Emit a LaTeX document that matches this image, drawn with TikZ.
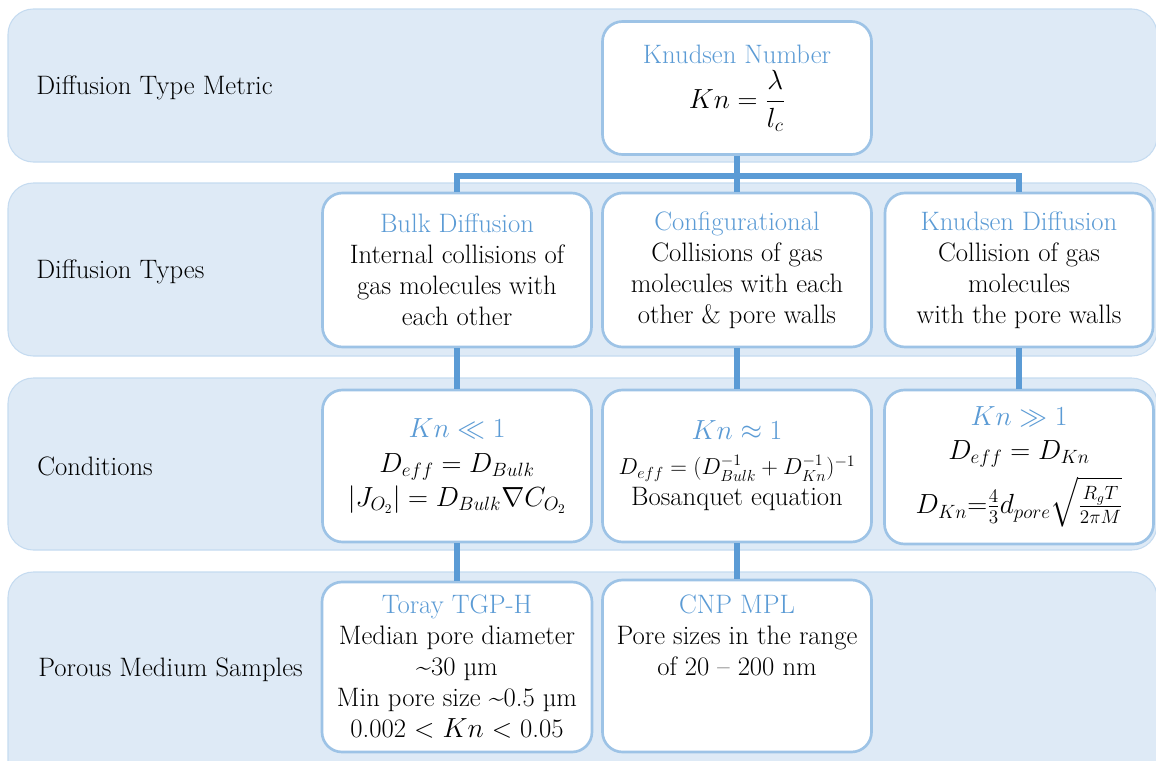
\documentclass[tikz,border=0pt]{standalone}
\usepackage{amsmath}
\definecolor{knBlue}{HTML}{5B9BD5}
\definecolor{knEdge}{HTML}{9DC3E6}
\definecolor{knBand}{HTML}{DEEAF6}
\definecolor{knBandEdge}{HTML}{C5DBF0}
\newcommand{\kt}[1]{\textcolor{knBlue}{#1}}
\tikzset{
  kn band/.style={draw=knBandEdge, fill=knBand, line width=0.8pt, rounded corners=19pt},
  kn box/.style 2 args={draw=knEdge, fill=white, line width=2pt, rounded corners=15pt,
    minimum width=#1*0.75pt, minimum height=#2*0.75pt, align=center, inner sep=0pt,
    font=\fontsize{20}{23.25}\selectfont},
  kn link/.style={draw=knBlue, line width=4.5pt},
  kn label/.style={anchor=west, inner sep=0pt, font=\fontsize{20}{23.25}\selectfont},
}

\begin{document}
\begin{tikzpicture}[x=0.75pt,y=-0.75pt]
\clip(0,0)rectangle(1156,760);
% four rows
\draw[kn band](8,9)rectangle(1157,162);
\draw[kn band](8,183)rectangle(1157,356);
\draw[kn band](8,378)rectangle(1157,550);
\draw[kn band](8,572)rectangle(1157,800);
\node[kn label](metric)at(36,88){Diffusion Type Metric};
\node[kn label](types)at(36,272){Diffusion Types};
\node[kn label](cond)at(37,466){Conditions};
\node[kn label](samples)at(38,670){Porous Medium Samples};
% boxes
\node[kn box={269}{133}](kn)at(737,88){\kt{Knudsen Number}\\[4pt] $\displaystyle Kn=\frac{\lambda}{l_c}$};
\node[kn box={269}{154}](bulk)at(457,270){\kt{Bulk Diffusion}\\ Internal collisions of\\ gas molecules with\\ each other};
\node[kn box={269}{154}](conf)at(737,270){\kt{Configurational}\\ Collisions of gas\\ molecules with each\\ other \& pore walls};
\node[kn box={268}{154}](kdiff)at(1019,270){\kt{Knudsen Diffusion}\\ Collision of gas\\ molecules\\ with the pore walls};
\node[kn box={269}{152}](cless)at(457,466){\kt{$Kn\ll 1$}\\[3pt] $D_{eff}=D_{Bulk}$\\[2pt] $\left|J_{O_2}\right|=D_{Bulk}\nabla C_{O_2}$};
\node[kn box={269}{152}](capprox)at(737,466){\kt{$Kn\approx 1$}\\[3pt] {\fontsize{17.5}{22}\selectfont$D_{eff}=(D_{Bulk}^{-1}+D_{Kn}^{-1})^{-1}$}\\ Bosanquet equation};
\node[kn box={269}{154}](cmore)at(1019,467){\kt{$Kn\gg 1$}\\[2pt] $D_{eff}=D_{Kn}$\\[6pt] $\displaystyle D_{Kn}{=}\tfrac{4}{3}d_{pore}\sqrt{\tfrac{R_gT}{2\pi M}}$};
\node[kn box={270}{170}](toray)at(457,667){\kt{Toray TGP-H}\\ Median pore diameter\\ \textasciitilde30 µm\\ Min pore size \textasciitilde0.5 µm\\ 0.002 < $Kn$ < 0.05};
\node[kn box={269}{172}](cnp)at(737,666){\kt{CNP MPL}\\ Pore sizes in the range\\ of 20 -- 200 nm\\ \mbox{}\\ \mbox{}};
% connectors
\coordinate(bar)at(0,176);
\draw[kn link](kn.south)--(conf.north);
\draw[kn link](bulk.north)--(bulk.north|-bar)--(kdiff.north|-bar)--(kdiff.north);
\draw[kn link](bulk.south)--(cless.north);\draw[kn link](conf.south)--(capprox.north);\draw[kn link](kdiff.south)--(cmore.north);
\draw[kn link](cless.south)--(toray.north);\draw[kn link](capprox.south)--(cnp.north);
\end{tikzpicture}
\end{document}
